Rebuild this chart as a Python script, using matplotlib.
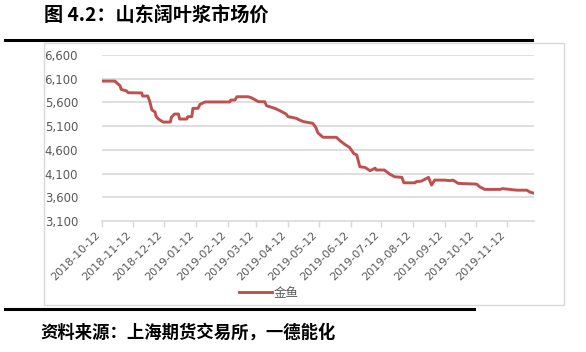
import matplotlib
matplotlib.use("Agg")
import matplotlib.pyplot as plt
import matplotlib.dates as mdates
from matplotlib.patches import Rectangle
from matplotlib.lines import Line2D
import pandas as pd

plt.rcParams['font.family'] = ['Noto Sans CJK SC', 'DejaVu Sans']

title = "图 4.2：山东阔叶浆市场价"
source = "资料来源：上海期货交易所，一德能化"
series_name = "金鱼"

dates = ["2018-10-12", "2018-10-25", "2018-10-26", "2018-10-30", "2018-10-31",
         "2018-11-05", "2018-11-07", "2018-11-20", "2018-11-21", "2018-11-26",
         "2018-11-28", "2018-11-30", "2018-12-03", "2018-12-04", "2018-12-06",
         "2018-12-11", "2018-12-18", "2018-12-19", "2018-12-22", "2018-12-26",
         "2018-12-27", "2019-01-03", "2019-01-04", "2019-01-08", "2019-01-09",
         "2019-01-14", "2019-01-16", "2019-01-21", "2019-02-14", "2019-02-15",
         "2019-02-19", "2019-02-21", "2019-03-04", "2019-03-07", "2019-03-14",
         "2019-03-20", "2019-03-22", "2019-03-30", "2019-04-04", "2019-04-10",
         "2019-04-12", "2019-04-20", "2019-04-23", "2019-04-27", "2019-05-06",
         "2019-05-09", "2019-05-11", "2019-05-16", "2019-05-29", "2019-06-01",
         "2019-06-06", "2019-06-11", "2019-06-15", "2019-06-18", "2019-06-21",
         "2019-06-26", "2019-07-01", "2019-07-06", "2019-07-07", "2019-07-15",
         "2019-07-20", "2019-07-25", "2019-08-01", "2019-08-03", "2019-08-14",
         "2019-08-15", "2019-08-20", "2019-08-27", "2019-08-30", "2019-09-02",
         "2019-09-12", "2019-09-17", "2019-09-20", "2019-09-25", "2019-10-13",
         "2019-10-16", "2019-10-21", "2019-11-05", "2019-11-07", "2019-11-21",
         "2019-12-01", "2019-12-04", "2019-12-08"]
prices = [6050, 6050, 6025, 5950, 5875,
          5845, 5805, 5800, 5735, 5735,
          5615, 5440, 5400, 5313, 5256,
          5186, 5186, 5285, 5355, 5355,
          5250, 5250, 5300, 5300, 5475,
          5475, 5560, 5610, 5610, 5650,
          5650, 5720, 5720, 5700, 5615,
          5615, 5530, 5475, 5425, 5355,
          5300, 5265, 5230, 5195, 5160,
          5075, 4960, 4865, 4865, 4805,
          4720, 4650, 4525, 4490, 4243,
          4230, 4160, 4215, 4175, 4175,
          4090, 4032, 4020, 3905, 3905,
          3930, 3940, 4020, 3857, 3962,
          3962, 3950, 3962, 3893, 3878,
          3820, 3766, 3766, 3783, 3750,
          3750, 3710, 3685]
tick_labels = ["2018-10-12", "2018-11-12", "2018-12-12", "2019-01-12", "2019-02-12",
               "2019-03-12", "2019-04-12", "2019-05-12", "2019-06-12", "2019-07-12",
               "2019-08-12", "2019-09-12", "2019-10-12", "2019-11-12"]
y_ticks = [3100, 3600, 4100, 4600, 5100, 5600, 6100, 6600]

W, H = 586, 352
fig = plt.figure(figsize=(W / 100, H / 100), dpi=100)

def fx(px):
    return px / W

def fy(py):
    return 1 - py / H

# title and decorative lines
fig.text(fx(44), fy(16), title, fontsize=13.8, fontweight='bold', color='black',
         ha='left', va='center')
fig.add_artist(Line2D([fx(5), fx(532)], [fy(40), fy(40)], color='black', lw=2.2))
fig.add_artist(Rectangle((fx(44), fy(305)), fx(564) - fx(44), fy(43) - fy(305),
                         fill=False, edgecolor='#d9d9d9', lw=1.0))
fig.add_artist(Line2D([fx(5), fx(474)], [fy(309), fy(309)], color='black', lw=2.2))
fig.text(fx(40), fy(333), source, fontsize=12.5, fontweight='bold', color='black',
         ha='left', va='center')

ax = fig.add_axes([fx(101.7), fy(221), fx(534) - fx(101.7), fy(55) - fy(221)])
x = pd.to_datetime(dates)
ax.plot(x, prices, color='#c0504d', lw=2.1, solid_joinstyle='round', label=series_name, zorder=3)

ax.set_ylim(y_ticks[0], y_ticks[-1])
ax.set_yticks(y_ticks)
ax.set_yticklabels([f"{v:,}" for v in y_ticks])
ax.set_xlim(x[0], x[-1])
ticks = pd.to_datetime(tick_labels)
ax.set_xticks(ticks)
ax.set_xticklabels(tick_labels, rotation=45, ha='right', va='top', rotation_mode='default')

for v in y_ticks[1:]:
    ax.axhline(v, color='#d9d9d9', lw=1.2, zorder=1)

for s in ['top', 'right', 'left']:
    ax.spines[s].set_visible(False)
ax.spines['bottom'].set_color('#d9d9d9')
ax.spines['bottom'].set_linewidth(1.2)

ax.tick_params(axis='y', length=0, pad=17, labelsize=8.5, labelcolor='#595959')
ax.tick_params(axis='x', length=4, width=1, color='#d9d9d9', pad=2, labelsize=8,
               labelcolor='#595959')
for lab in ax.get_yticklabels() + ax.get_xticklabels():
    lab.set_family(['DejaVu Sans'])

leg = fig.legend(handles=[Line2D([], [], color='#c0504d', lw=2.1)], labels=[series_name],
                 loc='center', bbox_to_anchor=(fx(269), fy(293)), frameon=False,
                 fontsize=9, handlelength=2.6, handletextpad=0.2, borderpad=0)
for t in leg.get_texts():
    t.set_color('#595959')

fig.savefig('out.png', dpi=100)
